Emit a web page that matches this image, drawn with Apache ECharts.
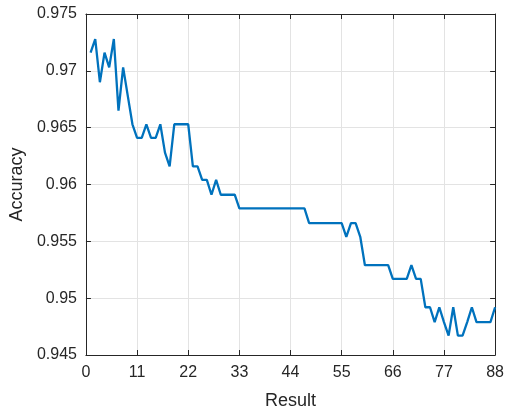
<!DOCTYPE html>
<html>
<head>
<meta charset="utf-8">
<script src="https://cdn.jsdelivr.net/npm/echarts@6/dist/echarts.min.js"></script>
<style>
  html, body { margin: 0; padding: 0; background: #fff; }
  #chart { width: 507px; height: 415px; }
</style>
</head>
<body>
<div id="chart"></div>
<script>
// Result index (x) and accuracy per result (y)
const results = [
  1, 2, 3, 4, 5, 6, 7, 8, 9, 10,
  11, 12, 13, 14, 15, 16, 17, 18, 19, 20,
  21, 22, 23, 24, 25, 26, 27, 28, 29, 30,
  31, 32, 33, 34, 35, 36, 37, 38, 39, 40,
  41, 42, 43, 44, 45, 46, 47, 48, 49, 50,
  51, 52, 53, 54, 55, 56, 57, 58, 59, 60,
  61, 62, 63, 64, 65, 66, 67, 68, 69, 70,
  71, 72, 73, 74, 75, 76, 77, 78, 79, 80,
  81, 82, 83, 84, 85, 86, 87, 88
];
const accuracy = [
  0.9716, 0.9728, 0.9690, 0.9716, 0.9703, 0.9728, 0.9665, 0.9703, 0.9678, 0.9653,
  0.9641, 0.9641, 0.9653, 0.9641, 0.9641, 0.9653, 0.9628, 0.9616, 0.9653, 0.9653,
  0.9653, 0.9653, 0.9616, 0.9616, 0.9604, 0.9604, 0.9591, 0.9604, 0.9591, 0.9591,
  0.9591, 0.9591, 0.9579, 0.9579, 0.9579, 0.9579, 0.9579, 0.9579, 0.9579, 0.9579,
  0.9579, 0.9579, 0.9579, 0.9579, 0.9579, 0.9579, 0.9579, 0.9566, 0.9566, 0.9566,
  0.9566, 0.9566, 0.9566, 0.9566, 0.9566, 0.9554, 0.9566, 0.9566, 0.9554, 0.9529,
  0.9529, 0.9529, 0.9529, 0.9529, 0.9529, 0.9517, 0.9517, 0.9517, 0.9517, 0.9529,
  0.9517, 0.9517, 0.9492, 0.9492, 0.9479, 0.9492, 0.9479, 0.9467, 0.9492, 0.9467,
  0.9467, 0.9479, 0.9492, 0.9479, 0.9479, 0.9479, 0.9479, 0.9492
];
// Axis tick values
const xTicks = [0, 11, 22, 33, 44, 55, 66, 77, 88];
const yTicks = [0.945, 0.95, 0.955, 0.96, 0.965, 0.97, 0.975];

const FONT = "'Liberation Sans', Arial, Helvetica, sans-serif";
const INK = '#262626';
const GRID = '#e3e3e3';

const xMin = xTicks[0], xMax = xTicks[xTicks.length - 1], xStep = xTicks[1] - xTicks[0];
const yMin = yTicks[0], yMax = yTicks[yTicks.length - 1], yStep = 0.005;

const fmtY = v => String(parseFloat(Number(v).toFixed(3)));

const baseAxisLine = { show: true, onZero: false, lineStyle: { color: INK, width: 1 } };
const baseTick = { show: true, inside: true, length: 5, lineStyle: { color: INK, width: 1 } };

const chart = echarts.init(document.getElementById('chart'), null, { renderer: 'canvas' });
chart.setOption({
  animation: false,
  backgroundColor: '#fff',
  grid: { left: 83, right: 9, top: 14, bottom: 56, containLabel: false },
  xAxis: [
    {
      type: 'value', min: xMin, max: xMax, interval: xStep, position: 'bottom',
      name: 'Result', nameLocation: 'middle', nameGap: 37,
      nameTextStyle: { fontFamily: FONT, fontSize: 18, color: INK },
      axisLine: baseAxisLine, axisTick: baseTick,
      axisLabel: { fontFamily: FONT, fontSize: 16, color: INK, margin: 10 },
      splitLine: { show: true, lineStyle: { color: GRID, width: 1 } }
    },
    {
      type: 'value', min: xMin, max: xMax, interval: xStep, position: 'top',
      axisLine: baseAxisLine, axisTick: baseTick,
      axisLabel: { show: false }, splitLine: { show: false }
    }
  ],
  yAxis: [
    {
      type: 'value', min: yMin, max: yMax, interval: yStep, position: 'left',
      name: 'Accuracy', nameLocation: 'middle', nameGap: 52,
      nameTextStyle: { fontFamily: FONT, fontSize: 18, color: INK },
      axisLine: baseAxisLine, axisTick: baseTick,
      axisLabel: { fontFamily: FONT, fontSize: 16, color: INK, margin: 9, formatter: fmtY },
      splitLine: { show: true, lineStyle: { color: GRID, width: 1 } }
    },
    {
      type: 'value', min: yMin, max: yMax, interval: yStep, position: 'right',
      axisLine: baseAxisLine, axisTick: baseTick,
      axisLabel: { show: false }, splitLine: { show: false }
    }
  ],
  series: [
    {
      type: 'line',
      data: results.map((r, i) => [r, accuracy[i]]),
      showSymbol: false,
      lineStyle: { color: '#0072BD', width: 2.3 },
      itemStyle: { color: '#0072BD' }
    }
  ]
});
</script>
</body>
</html>
